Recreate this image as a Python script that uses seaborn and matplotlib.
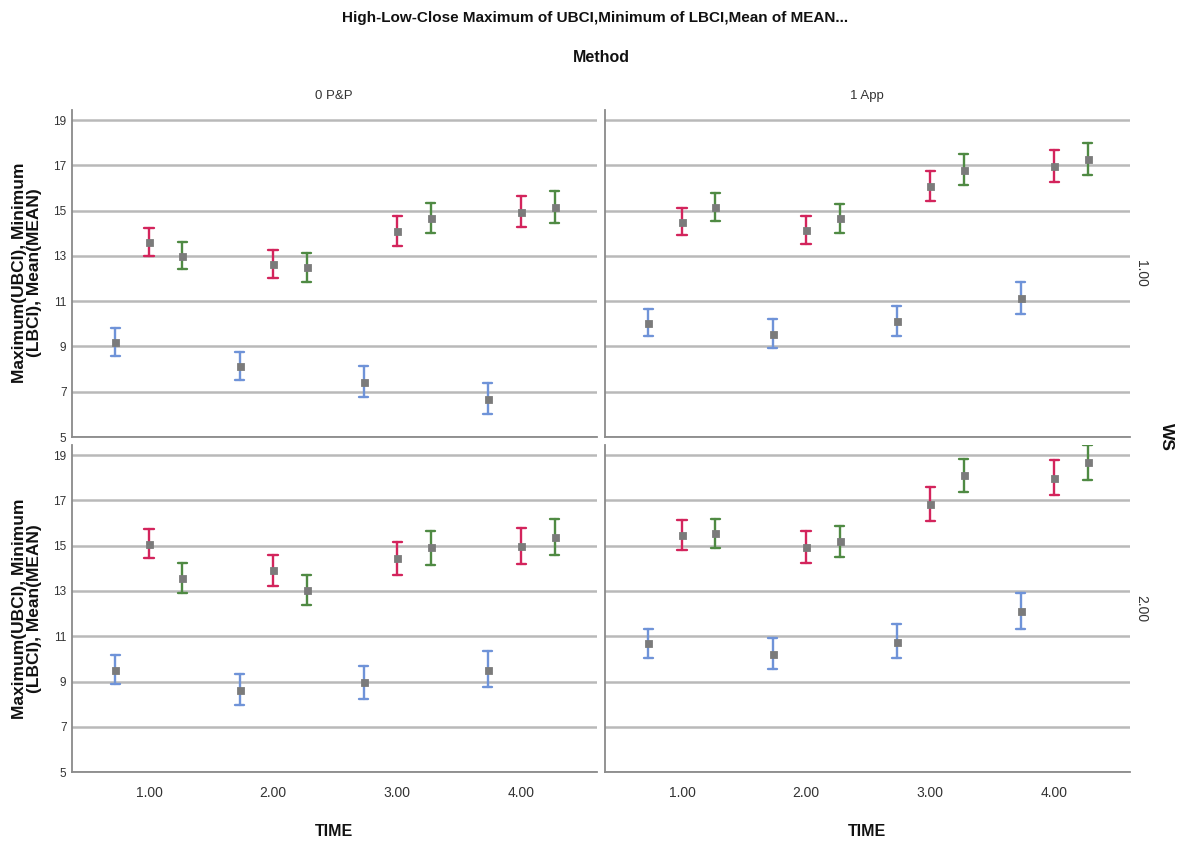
import numpy as np
import pandas as pd
import matplotlib
matplotlib.use("Agg")
import matplotlib.pyplot as plt
import seaborn as sns

# ---------------- data ----------------
times = ["1.00", "2.00", "3.00", "4.00"]
methods = ["0 P&P", "1 App"]
ws_levels = ["1.00", "2.00"]
series = ["S1", "S2", "S3"]
colors = ["#6f93d8", "#d3245c", "#4f8a43"]

# rows: S1 (blue), S2 (red), S3 (green); columns: TIME 1..4
pp_ws1_mean = [[9.19, 8.12, 7.44, 6.69], [13.62, 12.65, 14.09, 14.94], [13.01, 12.50, 14.69, 15.16]]
pp_ws1_low = [[8.57, 7.50, 6.79, 6.00], [13.01, 12.01, 13.43, 14.26], [12.41, 11.85, 14.01, 14.47]]
pp_ws1_high = [[9.81, 8.75, 8.12, 7.38], [14.24, 13.26, 14.76, 15.65], [13.60, 13.12, 15.35, 15.87]]

app_ws1_mean = [[10.06, 9.56, 10.12, 11.13], [14.51, 14.13, 16.09, 16.99], [15.16, 14.66, 16.82, 17.28]]
app_ws1_low = [[9.46, 8.94, 9.46, 10.44], [13.91, 13.51, 15.44, 16.29], [14.56, 14.03, 16.15, 16.59]]
app_ws1_high = [[10.66, 10.21, 10.78, 11.84], [15.12, 14.76, 16.75, 17.69], [15.78, 15.28, 17.49, 17.99]]

pp_ws2_mean = [[9.52, 8.63, 8.96, 9.52], [15.08, 13.92, 14.45, 14.99], [13.56, 13.05, 14.93, 15.39]]
pp_ws2_low = [[8.88, 7.95, 8.23, 8.74], [14.45, 13.24, 13.71, 14.21], [12.91, 12.37, 14.17, 14.61]]
pp_ws2_high = [[10.19, 9.32, 9.70, 10.34], [15.74, 14.61, 15.18, 15.77], [14.23, 13.72, 15.67, 16.19]]

app_ws2_mean = [[10.69, 10.23, 10.75, 12.13], [15.48, 14.93, 16.85, 18.00], [15.57, 15.20, 18.13, 18.71]]
app_ws2_low = [[10.03, 9.54, 10.03, 11.34], [14.83, 14.25, 16.11, 17.22], [14.92, 14.51, 17.39, 17.91]]
app_ws2_high = [[11.34, 10.91, 11.52, 12.91], [16.13, 15.64, 17.59, 18.78], [16.20, 15.88, 18.85, 19.44]]

panels = {
    ("1.00", "0 P&P"): (pp_ws1_low, pp_ws1_mean, pp_ws1_high),
    ("1.00", "1 App"): (app_ws1_low, app_ws1_mean, app_ws1_high),
    ("2.00", "0 P&P"): (pp_ws2_low, pp_ws2_mean, pp_ws2_high),
    ("2.00", "1 App"): (app_ws2_low, app_ws2_mean, app_ws2_high),
}

rows = []
for (w, m), (lo, mu, hi) in panels.items():
    for si, s in enumerate(series):
        for ti, t in enumerate(times):
            for v in (lo[si][ti], mu[si][ti], hi[si][ti]):
                rows.append({"WS": w, "Method": m, "series": s, "TIME": t, "value": v})
df = pd.DataFrame(rows)

# ---------------- plot ----------------
sns.set_style("white")
plt.rcParams["font.family"] = ["Liberation Sans Narrow", "Liberation Sans", "DejaVu Sans"]

g = sns.FacetGrid(df, row="WS", col="Method", row_order=ws_levels, col_order=methods,
                  sharex=True, sharey=True, height=4, aspect=1.3, despine=False)
g.figure.set_size_inches(11.81, 8.43)
g.figure.subplots_adjust(left=0.061, right=0.9568, bottom=0.0842, top=0.8695,
                         wspace=0.0152, hspace=0.0245)

for i, w in enumerate(ws_levels):
    for j, m in enumerate(methods):
        ax = g.axes[i, j]
        sub = df[(df["WS"] == w) & (df["Method"] == m)]
        sns.pointplot(data=sub, x="TIME", y="value", hue="series", order=times,
                      hue_order=series, palette=colors, estimator="median",
                      errorbar=("pi", 100), dodge=0.54, linestyle="none",
                      marker="s", capsize=0.075, err_kws={"linewidth": 1.7},
                      legend=False, ax=ax)
        for ln in ax.lines:
            if ln.get_marker() == "s":
                ln.set_markerfacecolor("#7b7b7b")
                ln.set_markeredgecolor("#7b7b7b")
                ln.set_markersize(3.6)
                ln.set_zorder(5)
        ax.set_xlim(-0.62, 3.61)
        ax.set_ylim(5, 19.45)
        ax.set_yticks([5, 7, 9, 11, 13, 15, 17, 19])
        ax.yaxis.grid(True, color="#b9b9b9", linewidth=1.8)
        ax.xaxis.grid(False)
        ax.set_axisbelow(True)
        ax.set_xlabel("")
        ax.set_ylabel("")
        ax.set_title("")
        for side in ("top", "right"):
            ax.spines[side].set_visible(False)
        for side in ("left", "bottom"):
            ax.spines[side].set_color("#8a8a8a")
            ax.spines[side].set_linewidth(1.3)
        ax.tick_params(axis="both", length=0, colors="#333333")
        ax.tick_params(axis="y", labelsize=8.5, pad=4)
        ax.tick_params(axis="x", labelsize=10, pad=10)
        if j == 1:
            ax.tick_params(axis="y", labelleft=False)
        if i == 0:
            ax.tick_params(axis="x", labelbottom=False)

fig = g.figure
bold_narrow = dict(fontweight="bold", color="#111111")
fig.text(0.504, 1 - 18 / 843, "High-Low-Close Maximum of UBCI,Minimum of LBCI,Mean of MEAN...",
         ha="center", va="center", fontsize=11, **bold_narrow)
fig.text(0.509, 1 - 57 / 843, "Method", ha="center", va="center", fontsize=11.5, **bold_narrow)
fig.text(0.283, 0.886, "0 P&P", ha="center", va="center", fontsize=9.5, color="#333333")
fig.text(0.734, 0.886, "1 App", ha="center", va="center", fontsize=9.5, color="#333333")
for xc in (0.283, 0.734):
    fig.text(xc, 1 - 832 / 843, "TIME", ha="center", va="center", fontsize=11.5, **bold_narrow)

ylab = "Maximum(UBCI), Minimum\n(LBCI), Mean(MEAN)"
for yc in (1 - 273 / 843, 1 - 609 / 843):
    fig.text(0.023, yc, ylab, ha="center", va="center", rotation=90, fontsize=12.5,
             fontweight="bold", family=["Liberation Sans", "DejaVu Sans"],
             color="#111111", linespacing=0.95)
fig.text(0.966, 1 - 273 / 843, "1.00", ha="center", va="center", rotation=-90,
         fontsize=10, color="#333333")
fig.text(0.966, 1 - 609 / 843, "2.00", ha="center", va="center", rotation=-90,
         fontsize=10, color="#333333")
fig.text(0.988, 1 - 437 / 843, "WS", ha="center", va="center", rotation=-90,
         fontsize=12.5, **bold_narrow)

fig.savefig("out.png", dpi=100)
